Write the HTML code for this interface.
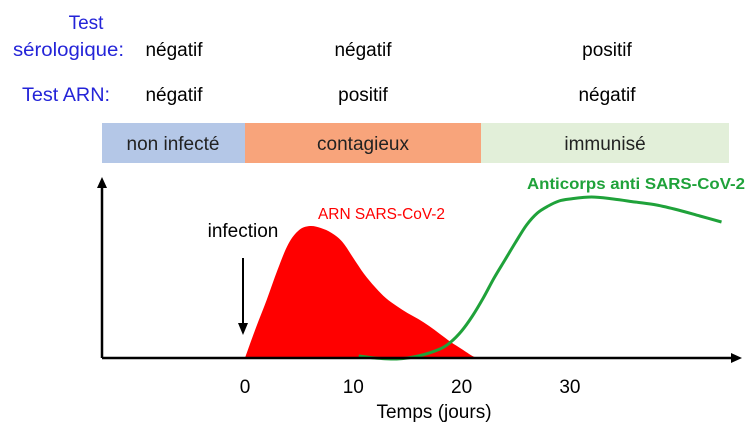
<!DOCTYPE html>
<html><head><meta charset="utf-8">
<style>
html,body{margin:0;padding:0;background:#fff;}
svg{display:block;font-family:"Liberation Sans",sans-serif;}
</style></head>
<body>
<svg id="chart" width="754" height="430" viewBox="0 0 754 430">
  <g font-size="19">
    <text x="86" y="29" fill="#2424d8" text-anchor="middle">Test</text>
    <text x="124" y="56" fill="#2424d8" text-anchor="end" textLength="111" lengthAdjust="spacingAndGlyphs">sérologique:</text>
    <text x="110" y="101" fill="#2424d8" text-anchor="end" textLength="88" lengthAdjust="spacingAndGlyphs">Test ARN:</text>
    <text x="174" y="56" text-anchor="middle">négatif</text>
    <text x="363" y="56" text-anchor="middle">négatif</text>
    <text x="607" y="56" text-anchor="middle">positif</text>
    <text x="174" y="101" text-anchor="middle">négatif</text>
    <text x="363" y="101" text-anchor="middle">positif</text>
    <text x="607" y="101" text-anchor="middle">négatif</text>
  </g>
  <g font-size="19">
    <rect x="102" y="123" width="143" height="40" fill="#b4c7e7"/>
    <rect x="245" y="123" width="236" height="40" fill="#f8a47b"/>
    <rect x="481" y="123" width="248" height="40" fill="#e2efd9"/>
    <text x="173" y="150" text-anchor="middle" fill="#222">non infecté</text>
    <text x="363" y="150" text-anchor="middle" fill="#222">contagieux</text>
    <text x="605" y="150" text-anchor="middle" fill="#222">immunisé</text>
  </g>
  <g id="plot"></g>
</svg>
<script>
const rnaDays = [0,1,2,3,4,5,6,7,8,9,10,11,12,13,14,15,16,17,18,19,20,21,21.5];
const rnaValues = [0,30,58,88,114,128,132,130,125,116,100,84,71,60,52,45,39,32,24,16,9,2,0];
const abDays = [10.5,12,14,16,18,19,20,21,22,23,24,25,26,27,28,29,30,32,34,36,38,40,42,44];
const abValues = [2,0,-1,2,9,16,27,42,60,80,98,116,133,145,152,157,159,161,159,156,153,148,142,136];
const xTicks = [0,10,20,30];
const xTickLabels = ["0","10","20","30"];

const X = d => 245 + d * 10.83;
const Y = v => 358 - v;
const NS = "http://www.w3.org/2000/svg";
const plot = document.getElementById("plot");
function mk(tag, attrs){const e=document.createElementNS(NS,tag);for(const k in attrs)e.setAttribute(k,attrs[k]);plot.appendChild(e);return e;}
function smooth(pts){
  let d=`M${pts[0][0]},${pts[0][1]}`;
  for(let i=0;i<pts.length-1;i++){
    const p0=pts[Math.max(0,i-1)],p1=pts[i],p2=pts[i+1],p3=pts[Math.min(pts.length-1,i+2)];
    const c1=[p1[0]+(p2[0]-p0[0])/6,p1[1]+(p2[1]-p0[1])/6];
    const c2=[p2[0]-(p3[0]-p1[0])/6,p2[1]-(p3[1]-p1[1])/6];
    d+=` C${c1[0]},${c1[1]} ${c2[0]},${c2[1]} ${p2[0]},${p2[1]}`;
  }
  return d;
}
const rp = rnaDays.map((d,i)=>[X(d),Y(rnaValues[i])]);
const area = mk("path",{d:smooth(rp)+" Z",fill:"#ff0000"});


const ap = abDays.map((d,i)=>[X(d),Y(abValues[i])]);
const line = mk("path",{d:smooth(ap),fill:"none",stroke:"#1fa23a","stroke-width":3});


const xa = mk("line",{x1:102,y1:358,x2:733,y2:358,stroke:"#000","stroke-width":2.5});


const xh = mk("path",{d:"M742,358 L731,353 L731,363 Z",fill:"#000"});


const ya = mk("line",{x1:102,y1:358,x2:102,y2:186,stroke:"#000","stroke-width":2.5});


const yh = mk("path",{d:"M102,177 L97,188 L107,188 Z",fill:"#000"});


xTicks.forEach((t,i)=>{
  const tx = mk("text",{x:X(t),y:393,"text-anchor":"middle","font-size":19});
  tx.textContent = xTickLabels[i];
  
  
});
const xt = mk("text",{x:434,y:418,"text-anchor":"middle","font-size":19});
xt.textContent = "Temps (jours)";


const inf = mk("text",{x:243,y:237,"text-anchor":"middle","font-size":19});
inf.textContent = "infection";


const arr = mk("line",{x1:243,y1:258,x2:243,y2:325,stroke:"#000","stroke-width":2});


const arrh = mk("path",{d:"M243,335 L238,323 L248,323 Z",fill:"#000"});


const rl = mk("text",{x:318,y:219,"font-size":16,fill:"#ff0000",textLength:127,lengthAdjust:"spacingAndGlyphs"});
rl.textContent = "ARN  SARS-CoV-2";


const al = mk("text",{x:527,y:189,"font-size":16,"font-weight":"bold",fill:"#1fa23a",textLength:218,lengthAdjust:"spacingAndGlyphs"});
al.textContent = "Anticorps anti  SARS-CoV-2";


</script>
</body></html>
